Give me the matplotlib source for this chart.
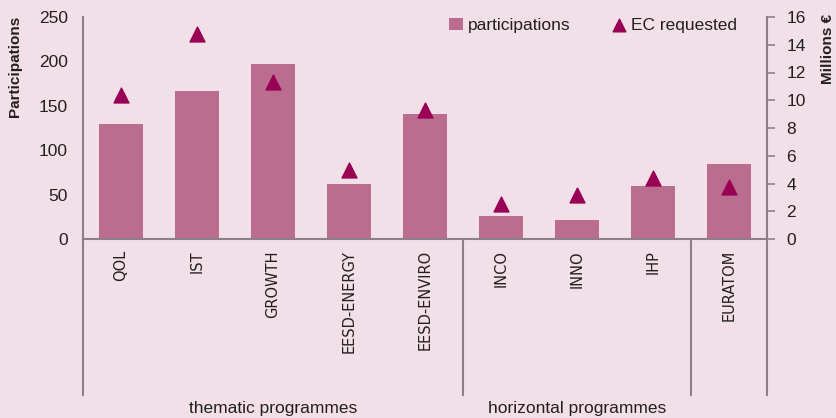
import matplotlib
matplotlib.use("Agg")
import matplotlib.pyplot as plt
import matplotlib.transforms as mtransforms
import numpy as np

programmes = ["QOL", "IST", "GROWTH", "EESD-ENERGY", "EESD-ENVIRO",
              "INCO", "INNO", "IHP", "EURATOM"]
participations = [130, 167, 197, 62, 141, 26, 21, 60, 84]
ec_requested = [10.4, 14.8, 11.3, 5.0, 9.3, 2.55, 3.2, 4.4, 3.75]
groups = ["thematic programmes", "horizontal programmes"]
group_bounds = [(-0.5, 4.5), (4.5, 7.5)]
separators = [-0.5, 4.5, 7.5, 8.5]

bg = "#f2e0e8"
bar_col = "#bb6d90"
tri_col = "#990055"
axis_col = "#8c8087"
txt_col = "#231f20"

plt.rcParams['font.family'] = ['Liberation Sans', 'DejaVu Sans']

W, H = 837, 418
fig = plt.figure(figsize=(W / 100, H / 100), dpi=100, facecolor=bg)
ax = fig.add_axes([83 / W, 1 - 239 / H, (767 - 83) / W, (239 - 17) / H])
ax.set_facecolor(bg)

x = np.arange(len(programmes))
bars = ax.bar(x, participations, width=0.58, color=bar_col, label="participations", zorder=2)
ax.set_xlim(-0.5, 8.5)
ax.set_ylim(0, 250)
ax.set_yticks(range(0, 251, 50))
ax.tick_params(axis='y', length=0, pad=11, labelsize=12.5, colors=txt_col)
ax.set_xticks(x)
ax.set_xticklabels(programmes, rotation=90, fontsize=10.5, family='DejaVu Sans', color=txt_col)
ax.tick_params(axis='x', length=0, pad=8)
for s in ["top", "right", "left"]:
    ax.spines[s].set_visible(False)
ax.spines["bottom"].set_color(axis_col)
ax.spines["bottom"].set_linewidth(1.5)

ax2 = ax.twinx()
tri = ax2.scatter(x, ec_requested, marker="^", s=115, color=tri_col, label="EC requested", zorder=3)
ax2.set_ylim(0, 16)
ax2.set_yticks(range(0, 17, 2))
ax2.tick_params(axis='y', length=6, width=1.2, pad=8, labelsize=12.5, labelcolor=txt_col, color=axis_col)
for s in ["top", "left", "bottom", "right"]:
    ax2.spines[s].set_visible(False)

# group separators extending below the axis
trans = mtransforms.blended_transform_factory(ax.transData, ax.transAxes)
for sx in separators:
    ax.plot([sx, sx], [1 if sx in (-0.5, 8.5) else 0, -156 / 222], transform=trans,
            color=axis_col, lw=1.5, clip_on=False, zorder=1)
for name, (a, b) in zip(groups, group_bounds):
    ax.text((a + b) / 2, -169 / 222, name, transform=trans, ha='center', va='center',
            fontsize=12.5, family=['Liberation Sans Narrow', 'Liberation Sans'], color=txt_col)

fig.text(15 / W, 1 - 66 / H, "Participations", rotation=90, ha='center', va='center',
         fontsize=11, fontweight='bold', color=txt_col)
fig.text(828 / W, 1 - 49 / H, "Millions €", rotation=90, ha='center', va='center',
         fontsize=11, fontweight='bold', color=txt_col)

leg = ax.legend([bars, tri], ["participations", "EC requested"], loc='upper left',
                bbox_to_anchor=(350 / 684, 1.068), ncol=2, frameon=False, fontsize=12.5,
                handlelength=0.8, handletextpad=0.3, columnspacing=2.4, markerscale=0.85)
for t in leg.get_texts():
    t.set_color(txt_col)

fig.savefig("out.png", dpi=100, facecolor=bg)
